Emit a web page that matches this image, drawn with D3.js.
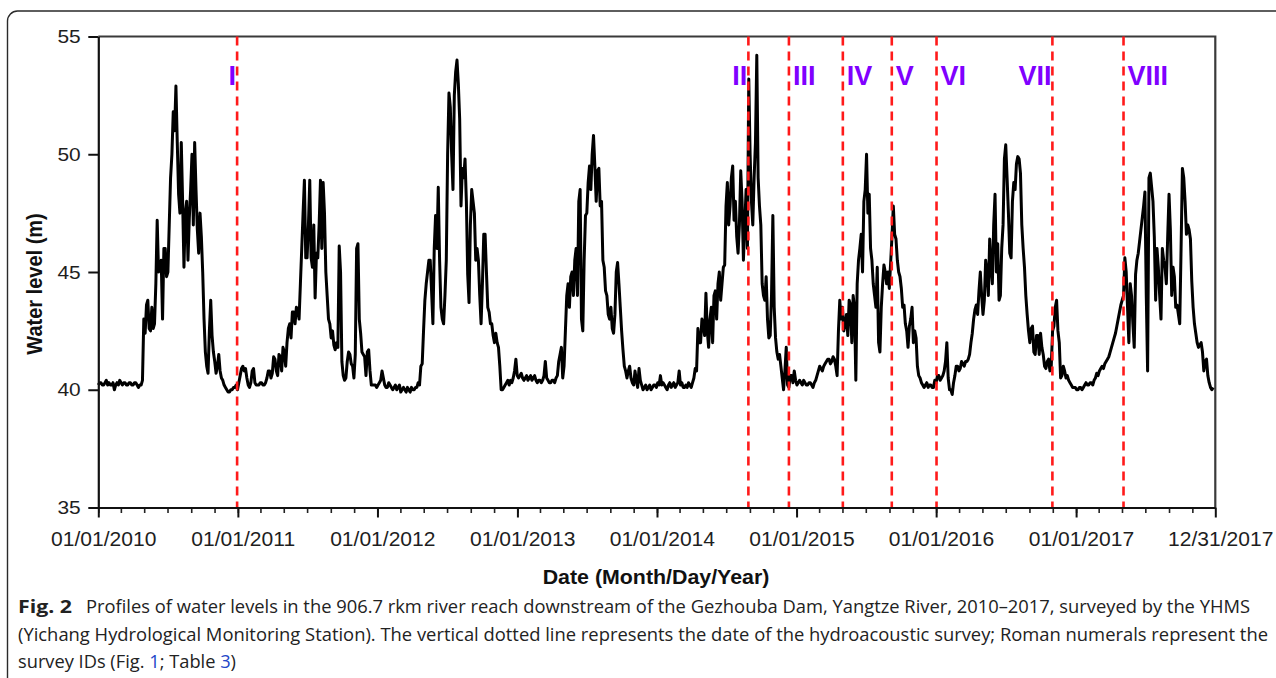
<!DOCTYPE html>
<html>
<head>
<meta charset="utf-8">
<script src="https://cdn.jsdelivr.net/npm/d3@7"></script>
<style>
  html, body { margin: 0; padding: 0; background: #fff; }
  svg { display: block; }
</style>
</head>
<body>
<svg id="chart" width="1276" height="678"></svg>
<script>
// Gauge record: one reading at the start of each week from 2010-01-01,
// plus one reading half a week later (captures the daily swings in flood season)
const startDate = "2010-01-01";
const stepHours = 168;

const level2010 = [40.2,40.3,40.2,40.4,40.3,40.2,40.0,40.3,40.4,40.2,40.3,40.2,40.3,40.2,40.3,40.1,40.2,
  43.0,43.6,42.6,43.5,42.8,47.2,45.2,43.0,46.0,45.0,49.0,51.8,52.9,48.3,50.5,45.2,48.0,47.3,50.0,50.5,
  46.8,47.5,45.0,41.6,40.7,43.8,41.6,40.7,41.5,40.5,40.2,40.0,39.9,40.0,40.1];
const mid2010 = [40.3,40.2,40.3,40.2,40.2,40.3,40.2,40.2,40.3,40.3,40.2,40.3,40.2,40.3,40.2,40.2,
  40.4,42.4,43.8,42.5,42.6,44.5,45.0,45.5,46.0,44.8,47.0,50.0,51.0,50.5,47.5,48.0,47.5,45.5,48.5,47.0,
  48.5,45.8,46.5,43.0,41.0,42.5,42.3,41.2,41.0,40.8,40.4,40.1,39.9,40.0,40.1,40.2];

const level2011 = [40.0,40.6,41.0,40.9,40.2,40.3,40.9,40.2,40.2,40.3,40.2,40.5,40.8,40.7,41.3,40.6,41.4,
  41.8,41.0,42.6,42.2,43.3,43.5,43.0,46.0,48.9,45.6,48.9,45.2,43.9,45.6,48.9,48.8,45.0,43.0,42.2,41.9,
  42.0,46.1,41.2,40.4,41.2,41.5,41.0,41.5,46.2,42.4,41.5,40.6,41.7,40.2,40.2];
const mid2011 = [40.3,40.9,40.8,40.5,40.1,40.8,40.3,40.2,40.3,40.2,40.3,40.8,40.5,41.4,40.8,41.5,40.8,
  41.6,42.0,42.8,43.3,42.8,43.4,44.5,47.5,45.6,47.0,45.6,47.0,45.8,47.0,46.0,47.5,44.0,42.8,42.5,
  41.7,41.8,45.0,40.6,40.5,41.6,41.1,40.5,46.0,43.0,41.6,41.4,41.6,40.8,40.2,40.2];

const level2012 = [40.1,40.3,40.8,40.2,40.1,40.2,40.0,40.2,40.1,39.9,40.1,39.9,40.0,40.1,40.0,40.1,40.2,
  41.1,43.8,45.0,45.5,42.8,47.4,48.6,43.5,42.8,45.5,52.6,50.0,52.5,54.0,51.5,49.4,49.8,44.9,47.0,48.0,
  45.5,45.5,42.8,46.6,45.0,43.3,42.8,42.0,42.0,41.0,40.0,40.2,40.4,40.4,40.5];
const mid2012 = [40.2,40.4,40.5,40.1,40.3,40.1,40.1,40.0,40.2,40.0,40.0,40.1,39.9,40.0,40.1,40.3,41.0,
  42.5,44.5,45.5,44.2,46.0,46.0,45.5,43.0,44.0,50.0,52.0,48.5,53.5,53.0,47.8,49.0,48.0,43.7,48.5,47.5,
  46.0,44.0,44.5,46.6,43.5,42.8,42.3,42.4,41.8,40.0,40.1,40.3,40.2,40.3,40.8];

const level2013 = [41.3,40.5,40.7,40.4,40.6,40.5,40.4,40.6,40.3,40.4,40.4,41.2,40.4,40.3,40.4,40.5,41.2,
  41.8,41.0,44.0,43.5,45.0,45.5,44.0,48.5,42.5,47.4,48.8,48.5,50.8,48.0,49.4,48.0,45.2,44.0,43.0,42.6,
  43.2,45.4,43.5,41.7,40.8,40.8,40.5,40.2,40.4,40.9,40.2,40.1,40.0,40.2,40.1];
const mid2013 = [40.6,40.6,40.5,40.5,40.4,40.6,40.5,40.4,40.4,40.3,40.6,40.5,40.3,40.4,40.3,40.6,41.5,
  40.5,42.5,44.5,44.8,44.0,46.0,48.0,43.0,45.5,47.5,49.5,50.0,49.5,49.3,47.8,45.5,44.2,43.2,43.5,42.4,
  45.0,44.5,42.5,41.0,40.5,41.0,40.3,40.8,40.1,40.4,40.0,40.2,40.1,40.0,40.2];

const level2014 = [40.2,40.3,40.6,40.3,40.1,40.2,40.1,40.3,40.2,40.8,40.3,40.1,40.1,40.2,40.3,40.9,42.6,
  42.0,42.8,44.1,41.8,43.5,44.0,43.0,45.0,44.5,45.3,48.8,47.8,49.5,48.0,45.8,49.3,45.5,48.5,53.2,48.0,
  49.0,54.2,47.8,44.5,43.8,43.0,42.3,47.4,42.2,41.3,41.0,40.0,41.8,40.1,40.6,40.8];
const mid2014 = [40.1,40.2,40.2,40.2,40.0,40.3,40.2,40.1,40.3,40.2,40.1,40.2,40.3,40.1,40.5,40.8,42.0,
  43.0,42.3,42.5,43.0,42.0,44.2,44.5,43.8,45.2,47.8,47.0,49.0,47.2,46.5,47.0,48.0,47.0,46.0,50.0,47.0,
  50.5,49.0,47.0,44.0,44.8,42.2,44.0,43.5,41.6,41.5,40.5,40.8,40.2,40.6,40.3,40.4];

const level2015 = [40.2,40.4,40.2,40.3,40.2,40.3,40.1,40.4,40.8,40.9,41.0,41.2,41.3,41.2,41.3,40.6,43.8,
  43.5,42.8,42.3,43.6,44.0,40.4,45.5,46.6,48.0,50.0,48.3,45.5,44.0,45.2,41.6,44.5,45.0,45.0,45.4,47.8,
  46.4,45.0,44.3,43.6,42.5,42.7,43.5,42.5,41.0,40.5,40.2,40.2,40.1,40.2,40.1];
const mid2015 = [40.3,40.3,40.4,40.2,40.3,40.2,40.3,40.6,41.0,40.8,41.1,41.3,41.1,41.4,41.0,42.5,43.0,
  42.5,43.2,43.8,42.0,43.5,44.5,46.0,45.0,48.5,47.5,46.0,44.5,43.5,42.0,43.5,45.3,44.5,44.3,46.5,46.6,
  45.5,44.8,43.5,42.8,41.8,43.0,42.0,42.2,40.6,40.3,40.1,40.3,40.2,40.1,40.4];

const level2016 = [40.3,40.6,40.5,40.8,42.0,40.0,39.8,40.6,41.0,40.9,41.1,41.2,41.3,42.0,43.0,43.6,44.2,
  44.0,43.8,45.0,46.4,44.5,48.3,46.2,44.0,47.0,50.4,47.5,45.6,48.8,49.6,49.8,47.0,45.2,43.2,42.0,42.7,
  41.5,42.3,42.4,41.5,40.9,41.3,41.0,42.7,43.8,42.0,40.6,40.8,40.6,40.3,40.1];
const mid2016 = [40.6,40.4,40.6,41.2,40.5,40.0,40.3,41.0,40.8,41.2,41.0,41.2,41.5,42.4,43.4,43.2,45.0,
  43.2,45.5,44.0,45.2,47.0,45.0,43.8,46.0,49.8,49.0,45.8,48.0,48.5,49.9,49.2,46.0,44.0,42.5,42.6,41.6,
  42.3,41.5,41.8,41.0,41.2,40.8,42.5,43.5,42.5,40.5,41.0,40.5,40.4,40.2,40.1];

const level2017 = [40.1,40.0,40.1,40.1,40.3,40.2,40.3,40.4,40.7,40.8,41.0,41.1,41.3,41.6,42.0,42.4,43.0,
  43.6,44.0,45.0,42.0,44.0,41.8,45.5,46.3,47.3,48.4,40.8,49.2,48.0,43.8,45.2,43.0,45.5,44.5,48.3,44.0,
  44.8,43.6,42.8,49.4,48.0,47.0,46.4,43.5,42.4,41.8,42.0,40.8,41.3,40.3,40.0];
const mid2017 = [40.0,40.1,40.0,40.2,40.2,40.3,40.2,40.5,40.6,40.9,40.9,41.2,41.4,41.8,42.2,42.7,43.3,
  43.8,45.6,43.5,44.5,42.8,44.9,45.8,46.8,47.8,44.0,49.0,48.6,46.5,46.0,44.0,46.0,45.2,46.5,46.8,45.2,
  43.5,43.2,46.0,49.0,46.6,46.8,44.6,42.8,42.0,41.9,41.6,41.2,40.6,40.1,40.1];

// Hydroacoustic survey dates and their IDs
const surveyIds   = ["I", "II", "III", "IV", "V", "VI", "VII", "VIII"];
const surveyDates = ["2010-12-30", "2014-08-28", "2014-12-12", "2015-05-02",
                     "2015-09-07", "2016-01-02", "2016-10-31", "2017-05-05"];
const surveySide  = ["before", "before", "after", "after", "after", "after", "before", "after"];

// Axis ticks
const yTicks = [35, 40, 45, 50, 55];
const xTickDates  = ["2010-01-01", "2011-01-01", "2012-01-01", "2013-01-01", "2014-01-01",
                     "2015-01-01", "2016-01-01", "2017-01-01", "2017-12-31"];
const xTickLabels = ["01/01/2010", "01/01/2011", "01/01/2012", "01/01/2013", "01/01/2014",
                     "01/01/2015", "01/01/2016", "01/01/2017", "12/31/2017"];

const parse = d3.utcParse("%Y-%m-%d");
const t0 = parse(startDate);
const weekly  = [].concat(level2010, level2011, level2012, level2013,
                          level2014, level2015, level2016, level2017);
const midweek = [].concat(mid2010, mid2011, mid2012, mid2013,
                          mid2014, mid2015, mid2016, mid2017);
const series = [];
weekly.forEach((v, i) => {
  const t = d3.utcHour.offset(t0, i * stepHours);
  series.push({ date: t, value: v });
  series.push({ date: d3.utcHour.offset(t, stepHours / 2), value: midweek[i] });
});

const svg = d3.select("#chart");
const W = 1276, H = 678;
const plot = { left: 98.3, right: 1215.3, top: 36.5, bottom: 507.5 };
const font = "Arial, 'Liberation Sans', Helvetica, sans-serif";

const x = d3.scaleUtc()
  .domain([parse("2010-01-01"), parse("2017-12-31")])
  .range([plot.left, plot.right]);
const y = d3.scaleLinear().domain([35, 55]).range([plot.bottom, plot.top]);

// Card outline of the figure panel
svg.append("path")
  .attr("d", `M7.5,${H} V21 A10,10 0 0 1 17.5,11 H${W}`)
  .attr("fill", "none").attr("stroke", "#2a2a2a").attr("stroke-width", 1.4);

// Plot frame (top and right)
svg.append("path")
  .attr("d", `M${plot.left},${plot.top} H${plot.right} V${plot.bottom}`)
  .attr("fill", "none").attr("stroke", "#3a3a3a").attr("stroke-width", 2.2);

// Water level trace
svg.append("path")
  .datum(series)
  .attr("fill", "none")
  .attr("stroke", "#000")
  .attr("stroke-width", 3)
  .attr("stroke-linejoin", "round")
  .attr("d", d3.line().x(d => x(d.date)).y(d => y(d.value)));

// Survey markers
const surveys = surveyIds.map((id, i) => ({ id, date: parse(surveyDates[i]), side: surveySide[i] }));
svg.append("g").selectAll("line").data(surveys).join("line")
  .attr("x1", d => x(d.date)).attr("x2", d => x(d.date))
  .attr("y1", plot.top).attr("y2", plot.bottom)
  .attr("stroke", "#ff1a1a").attr("stroke-width", 2.6)
  .attr("stroke-dasharray", "9,6");

svg.append("g").selectAll("text").data(surveys).join("text")
  .attr("x", d => x(d.date) + (d.side === "after" ? 4 : -1))
  .attr("y", 85)
  .attr("text-anchor", d => d.side === "after" ? "start" : "end")
  .attr("font-family", font).attr("font-weight", "bold").attr("font-size", 27)
  .attr("fill", "#8000ff")
  .text(d => d.id);

// X axis: major (labelled) ticks and two-monthly minor ticks
const xMinor = svg.append("g").attr("transform", `translate(0,${plot.bottom})`)
  .call(d3.axisBottom(x).ticks(d3.utcMonth.every(2)).tickSize(5.5).tickSizeOuter(0).tickFormat(""));
xMinor.select(".domain").remove();
xMinor.selectAll("line").attr("stroke", "#222").attr("stroke-width", 1.6);

const xAxis = svg.append("g").attr("transform", `translate(0,${plot.bottom})`)
  .call(d3.axisBottom(x)
    .tickValues(xTickDates.map(parse))
    .tickFormat((d, i) => xTickLabels[i])
    .tickSize(10).tickSizeOuter(0).tickPadding(15));
xAxis.select(".domain").attr("stroke", "#111").attr("stroke-width", 2.2);
xAxis.selectAll("line").attr("stroke", "#111").attr("stroke-width", 2);
xAxis.selectAll("text")
  .attr("font-family", font).attr("font-size", 19.5).attr("fill", "#1e1e1e")
  .attr("x", 4.5).attr("transform", "scale(1.08,1)");

// Y axis
const yAxis = svg.append("g").attr("transform", `translate(${plot.left},0)`)
  .call(d3.axisLeft(y).tickValues(yTicks).tickSize(10).tickSizeOuter(0).tickPadding(6));
yAxis.select(".domain").attr("stroke", "#111").attr("stroke-width", 2.2);
yAxis.selectAll("line").attr("stroke", "#111").attr("stroke-width", 2);
yAxis.selectAll("text")
  .attr("font-family", font).attr("font-size", 19).attr("fill", "#1e1e1e")
  .attr("transform", "scale(1.1,1)");

// Axis titles
svg.append("text")
  .attr("transform", "translate(41.5,284) scale(1.12,1) rotate(-90)")
  .attr("text-anchor", "middle")
  .attr("font-family", font).attr("font-weight", "bold").attr("font-size", 20)
  .attr("fill", "#111")
  .text("Water level (m)");

svg.append("text")
  .attr("transform", "translate(656,583.5) scale(1.09,1)")
  .attr("text-anchor", "middle")
  .attr("font-family", font).attr("font-weight", "bold").attr("font-size", 19.6)
  .attr("fill", "#111")
  .text("Date (Month/Day/Year)");

// Figure caption
const capFont = "'Open Sans', 'Noto Sans', sans-serif";
const cap = svg.append("g").attr("fill", "#222").attr("font-family", capFont).attr("font-size", 17.5);
cap.append("text").attr("x", 18).attr("y", 613)
  .attr("font-weight", "bold").attr("textLength", 54).attr("lengthAdjust", "spacingAndGlyphs")
  .text("Fig. 2");
cap.append("text").attr("x", 86).attr("y", 613)
  .attr("textLength", 1164).attr("lengthAdjust", "spacingAndGlyphs")
  .text("Profiles of water levels in the 906.7 rkm river reach downstream of the Gezhouba Dam, Yangtze River, 2010\u20132017, surveyed by the YHMS");
cap.append("text").attr("x", 18).attr("y", 641)
  .attr("textLength", 1250).attr("lengthAdjust", "spacingAndGlyphs")
  .text("(Yichang Hydrological Monitoring Station). The vertical dotted line represents the date of the hydroacoustic survey; Roman numerals represent the");
const l3 = cap.append("text").attr("x", 18).attr("y", 668)
  .attr("textLength", 218).attr("lengthAdjust", "spacingAndGlyphs");
l3.append("tspan").text("survey IDs (Fig. ");
l3.append("tspan").attr("fill", "#2446c8").text("1");
l3.append("tspan").text("; Table ");
l3.append("tspan").attr("fill", "#2446c8").text("3");
l3.append("tspan").text(")");
</script>
</body>
</html>
